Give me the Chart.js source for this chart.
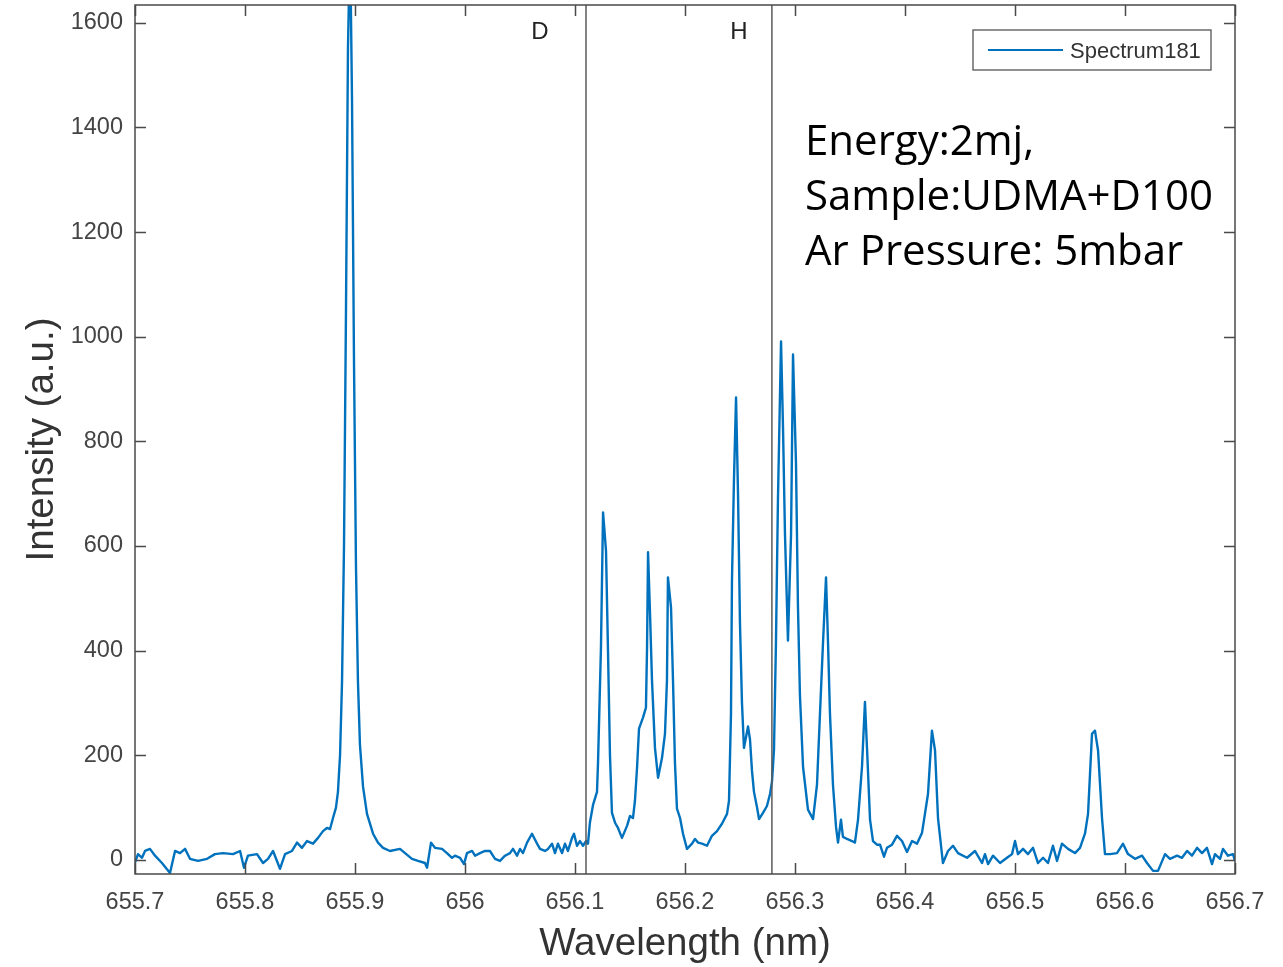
<!DOCTYPE html>
<html>
<head>
<meta charset="utf-8">
<title>Spectrum181</title>
<script src="https://cdn.jsdelivr.net/npm/chart.js@4.4.1/dist/chart.umd.min.js"></script>
<style>
  html, body { margin: 0; padding: 0; background: #fff; }
  canvas { display: block; }
</style>
</head>
<body>
<canvas id="spectrumChart" width="1283" height="967"></canvas>
<script>
// --- spectrum data (wavelength in nm, intensity in a.u.) ---
const wavelength = [
  655.7000, 655.7027, 655.7064, 655.7091, 655.7136, 655.7182, 655.7245, 655.7318, 655.7364, 655.7409,
  655.7455, 655.7500, 655.7573, 655.7655, 655.7727, 655.7800, 655.7891, 655.7955, 655.7991, 655.8027,
  655.8109, 655.8164, 655.8209, 655.8255, 655.8318, 655.8364, 655.8427, 655.8473, 655.8518, 655.8564,
  655.8618, 655.8664, 655.8709, 655.8745, 655.8773, 655.8800, 655.8827, 655.8845, 655.8864, 655.8882,
  655.8900, 655.8918, 655.8936, 655.8955, 655.8973, 655.8991, 655.9009, 655.9027, 655.9045, 655.9073,
  655.9109, 655.9164, 655.9209, 655.9255, 655.9318, 655.9409, 655.9455, 655.9518, 655.9573, 655.9636,
  655.9655, 655.9691, 655.9727, 655.9791, 655.9836, 655.9882, 655.9909, 655.9955, 655.9991, 656.0018,
  656.0064, 656.0091, 656.0136, 656.0182, 656.0227, 656.0273, 656.0318, 656.0364, 656.0409, 656.0436,
  656.0473, 656.0500, 656.0527, 656.0564, 656.0609, 656.0655, 656.0682, 656.0727, 656.0755, 656.0791,
  656.0818, 656.0845, 656.0882, 656.0909, 656.0936, 656.0973, 656.0991, 656.1018, 656.1045, 656.1073,
  656.1100, 656.1118, 656.1136, 656.1164, 656.1200, 656.1209, 656.1236, 656.1255, 656.1264, 656.1282,
  656.1300, 656.1318, 656.1336, 656.1364, 656.1391, 656.1427, 656.1473, 656.1500, 656.1527, 656.1545,
  656.1564, 656.1582, 656.1618, 656.1645, 656.1655, 656.1664, 656.1682, 656.1700, 656.1727, 656.1755,
  656.1791, 656.1818, 656.1836, 656.1845, 656.1873, 656.1891, 656.1909, 656.1927, 656.1955, 656.1982,
  656.2018, 656.2064, 656.2091, 656.2118, 656.2155, 656.2200, 656.2245, 656.2291, 656.2336, 656.2382,
  656.2400, 656.2418, 656.2427, 656.2445, 656.2464, 656.2482, 656.2500, 656.2518, 656.2536, 656.2573,
  656.2591, 656.2609, 656.2627, 656.2655, 656.2673, 656.2709, 656.2745, 656.2773, 656.2791, 656.2809,
  656.2827, 656.2845, 656.2873, 656.2891, 656.2909, 656.2936, 656.2964, 656.2982, 656.3009, 656.3027,
  656.3045, 656.3073, 656.3118, 656.3164, 656.3200, 656.3227, 656.3255, 656.3282, 656.3300, 656.3318,
  656.3345, 656.3373, 656.3391, 656.3418, 656.3436, 656.3473, 656.3518, 656.3545, 656.3573, 656.3609,
  656.3636, 656.3655, 656.3682, 656.3709, 656.3745, 656.3773, 656.3809, 656.3836, 656.3882, 656.3927,
  656.3973, 656.4018, 656.4064, 656.4109, 656.4155, 656.4209, 656.4245, 656.4273, 656.4300, 656.4345,
  656.4391, 656.4436, 656.4482, 656.4564, 656.4636, 656.4700, 656.4727, 656.4755, 656.4800, 656.4864,
  656.4927, 656.4973, 656.5000, 656.5027, 656.5073, 656.5118, 656.5164, 656.5209, 656.5255, 656.5300,
  656.5345, 656.5382, 656.5427, 656.5482, 656.5545, 656.5591, 656.5636, 656.5664, 656.5700, 656.5727,
  656.5755, 656.5791, 656.5818, 656.5864, 656.5927, 656.5982, 656.6027, 656.6091, 656.6155, 656.6200,
  656.6255, 656.6300, 656.6364, 656.6409, 656.6473, 656.6518, 656.6564, 656.6609, 656.6655, 656.6700,
  656.6745, 656.6791, 656.6818, 656.6864, 656.6891, 656.6936, 656.6982, 656.7000
];

const intensity = [
  -5, 11, 4, 17, 21, 8, -6, -25, 17, 13,
  21, 2, -2, 2, 11, 13, 11, 17, -15, 8,
  11, -6, 2, 17, -17, 11, 17, 33, 23, 36,
  31, 42, 55, 61, 59, 80, 100, 130, 200, 340,
  600, 1050, 1550, 1760, 1450, 950, 560, 340, 220, 140,
  88, 50, 33, 23, 17, 21, 13, 2, -2, -6,
  -15, 33, 23, 21, 13, 4, 8, 4, -8, 13,
  17, 8, 13, 17, 17, 2, -2, 8, 13, 21,
  8, 21, 13, 33, 50, 31, 21, 17, 21, 31,
  13, 31, 13, 31, 17, 42, 50, 27, 36, 27,
  36, 31, 72, 105, 130, 184, 406, 664, 640, 590,
  400, 200, 90, 71, 61, 42, 65, 84, 80, 113,
  176, 251, 272, 291, 406, 588, 471, 343, 214, 157,
  195, 241, 343, 540, 482, 343, 184, 98, 80, 50,
  21, 31, 40, 33, 31, 27, 46, 55, 69, 88,
  113, 279, 534, 725, 884, 700, 450, 300, 214, 255,
  230, 170, 130, 100, 78, 90, 103, 126, 150, 211,
  417, 689, 991, 827, 622, 419, 622, 966, 758, 484,
  314, 178, 96, 78, 144, 279, 417, 540, 417, 279,
  144, 63, 33, 77, 44, 40, 36, 33, 77, 178,
  302, 212, 77, 36, 29, 29, 6, 23, 29, 46,
  36, 15, 36, 31, 52, 126, 247, 209, 80, -6,
  17, 27, 13, 4, 17, -6, 11, -8, 8, -6,
  4, 11, 36, 11, 21, 11, 23, -6, 4, -6,
  27, -2, 31, 21, 13, 23, 50, 88, 241, 247,
  209, 80, 11, 11, 13, 31, 11, 2, 8, -6,
  -21, -21, 11, 2, 8, 4, 17, 8, 23, 13,
  23, -8, 11, 2, 21, 8, 11, -2
];

// axis ticks
const xTickValues = [655.7, 655.8, 655.9, 656.0, 656.1, 656.2, 656.3, 656.4, 656.5, 656.6, 656.7];
const xTickLabels = ['655.7', '655.8', '655.9', '656', '656.1', '656.2', '656.3', '656.4', '656.5', '656.6', '656.7'];
const yTickValues = [0, 200, 400, 600, 800, 1000, 1200, 1400, 1600];

// reference lines (D and H line centres)
const lineLabels = ['D', 'H'];
const linePositions = [656.110, 656.279];

// text block
const noteLines = ['Energy:2mj,', 'Sample:UDMA+D100', 'Ar Pressure: 5mbar'];

const AXIS_COLOR = '#4a4a4a';
const TEXT_COLOR = '#444';
const LINE_BLUE = '#0072BD';

// frame + inward ticks, like a MATLAB box
const boxFrame = {
  id: 'boxFrame',
  afterDraw(chart) {
    const { ctx, chartArea: a, scales } = chart;
    const tick = 11;
    ctx.save();
    ctx.strokeStyle = AXIS_COLOR;
    ctx.lineWidth = 1.5;
    ctx.strokeRect(a.left, a.top, a.right - a.left, a.bottom - a.top);
    ctx.beginPath();
    xTickValues.forEach(v => {
      const x = Math.round(scales.x.getPixelForValue(v)) + 0.5;
      ctx.moveTo(x, a.bottom); ctx.lineTo(x, a.bottom - tick);
      ctx.moveTo(x, a.top); ctx.lineTo(x, a.top + tick);
    });
    yTickValues.forEach(v => {
      const y = Math.round(scales.y.getPixelForValue(v)) + 0.5;
      ctx.moveTo(a.left, y); ctx.lineTo(a.left + tick, y);
      ctx.moveTo(a.right, y); ctx.lineTo(a.right - tick, y);
    });
    ctx.stroke();
    ctx.restore();
  }
};

// vertical D / H lines with their letters
const refLines = {
  id: 'refLines',
  afterDatasetsDraw(chart, args, opts) {
    const { ctx, chartArea: a, scales } = chart;
    ctx.save();
    ctx.strokeStyle = '#5a5a5a';
    ctx.lineWidth = 1.5;
    linePositions.forEach((v, i) => {
      const x = scales.x.getPixelForValue(v);
      ctx.beginPath();
      ctx.moveTo(x, a.top);
      ctx.lineTo(x, a.bottom);
      ctx.stroke();
      ctx.fillStyle = '#222';
      ctx.font = '24px "Liberation Sans", Arial, sans-serif';
      ctx.textAlign = 'center';
      ctx.textBaseline = 'alphabetic';
      ctx.fillText(lineLabels[i], x - opts.labelOffsets[i], a.top + 34);
    });
    ctx.restore();
  }
};

// legend box and free text
const annotations = {
  id: 'annotations',
  afterDraw(chart) {
    const { ctx, chartArea: a } = chart;
    ctx.save();
    // legend
    const lx = a.right - 262, ly = a.top + 25, lw = 238, lh = 40;
    ctx.fillStyle = '#fff';
    ctx.fillRect(lx, ly, lw, lh);
    ctx.strokeStyle = '#555';
    ctx.lineWidth = 1.3;
    ctx.strokeRect(lx, ly, lw, lh);
    ctx.strokeStyle = LINE_BLUE;
    ctx.lineWidth = 2;
    ctx.beginPath();
    ctx.moveTo(lx + 15, ly + 20);
    ctx.lineTo(lx + 90, ly + 20);
    ctx.stroke();
    ctx.fillStyle = '#333';
    ctx.font = '22px "Liberation Sans", Arial, sans-serif';
    ctx.textBaseline = 'alphabetic';
    ctx.fillText(chart.data.datasets[0].label, lx + 97, ly + 28);
    // experiment notes
    ctx.fillStyle = '#000';
    ctx.font = '42px "Open Sans", sans-serif';
    noteLines.forEach((t, i) => ctx.fillText(t, 805, 155 + i * 55));
    ctx.restore();
  }
};

const points = wavelength.map((x, i) => ({ x: x, y: intensity[i] }));

new Chart(document.getElementById('spectrumChart'), {
  type: 'line',
  data: {
    datasets: [{
      label: 'Spectrum181',
      data: points,
      borderColor: LINE_BLUE,
      borderWidth: 2.4,
      borderJoinStyle: 'round',
      pointRadius: 0,
      tension: 0,
      fill: false
    }]
  },
  options: {
    responsive: false,
    animation: false,
    devicePixelRatio: 1,
    layout: { padding: { top: 5, right: 48, left: 0, bottom: 0 } },
    plugins: {
      legend: { display: false },
      tooltip: { enabled: false },
      refLines: { labelOffsets: [46, 33] }
    },
    scales: {
      x: {
        type: 'linear',
        min: 655.7,
        max: 656.7,
        grid: { display: false, drawTicks: false },
        border: { display: false },
        afterBuildTicks: s => { s.ticks = xTickValues.map(v => ({ value: v })); },
        afterFit: s => { s.height = 93; s.paddingLeft = 0; s.paddingRight = 0; },
        ticks: {
          color: TEXT_COLOR,
          padding: 14,
          maxRotation: 0,
          autoSkip: false,
          font: { family: '"Liberation Sans", Arial, sans-serif', size: 23.5 },
          callback: (v, i) => xTickLabels[i]
        },
        title: {
          display: true,
          text: 'Wavelength (nm)',
          color: '#333',
          font: { family: '"Liberation Sans", Arial, sans-serif', size: 38.5 },
          padding: { top: 0, bottom: 0 }
        }
      },
      y: {
        type: 'linear',
        min: -27,
        max: 1634,
        grid: { display: false, drawTicks: false },
        border: { display: false },
        afterBuildTicks: s => { s.ticks = yTickValues.map(v => ({ value: v })); },
        afterFit: s => { s.width = 135; s.paddingTop = 0; s.paddingBottom = 0; },
        ticks: {
          color: TEXT_COLOR,
          padding: 12,
          autoSkip: false,
          font: { family: '"Liberation Sans", Arial, sans-serif', size: 23.5 },
          callback: v => String(v)
        },
        title: {
          display: true,
          text: 'Intensity (a.u.)',
          color: '#333',
          font: { family: '"Liberation Sans", Arial, sans-serif', size: 38.5 },
          padding: { top: 19, bottom: 0 }
        }
      }
    }
  },
  plugins: [refLines, boxFrame, annotations]
});
</script>
</body>
</html>
